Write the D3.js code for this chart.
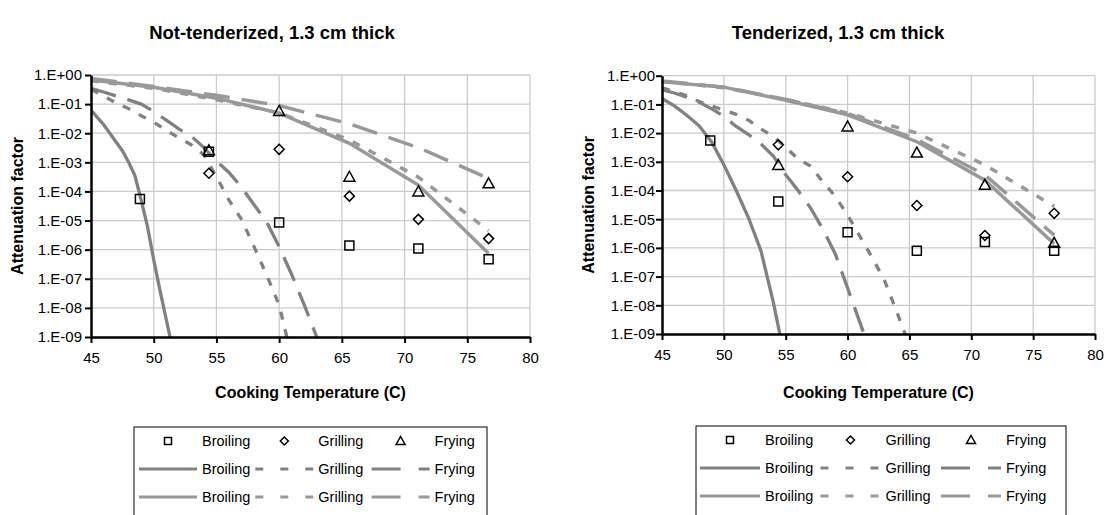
<!DOCTYPE html>
<html>
<head>
<meta charset="utf-8">
<script src="https://cdn.jsdelivr.net/npm/d3@7"></script>
<style>
  body { margin: 0; background: #fff; }
  svg { display: block; font-family: "Liberation Sans", Arial, sans-serif; }
</style>
</head>
<body>
<div id="chart"></div>
<script>
// axes
const xTicks = [45, 50, 55, 60, 65, 70, 75, 80];
const yTicks = [1e0, 1e-1, 1e-2, 1e-3, 1e-4, 1e-5, 1e-6, 1e-7, 1e-8, 1e-9];
const yTickLabels = ["1.E+00", "1.E-01", "1.E-02", "1.E-03", "1.E-04", "1.E-05", "1.E-06", "1.E-07", "1.E-08", "1.E-09"];
const methods = ["Broiling", "Grilling", "Frying"];

// observed points (cooking temperature, C)
const obsTemps = [48.9, 54.4, 60, 65.6, 71.1, 76.7];
const obsTempsNoBroil = [54.4, 60, 65.6, 71.1, 76.7];

const ntBroilObs = [5.5e-5, 2.3e-3, 8.5e-6, 1.4e-6, 1.1e-6, 4.7e-7];
const ntGrillObs = [4.2e-4, 2.8e-3, 6.9e-5, 1.1e-5, 2.4e-6];
const ntFryObs = [2.6e-3, 5.8e-2, 3.2e-4, 1.0e-4, 1.9e-4];

const tBroilObs = [5.5e-3, 4.1e-5, 3.5e-6, 8.0e-7, 1.6e-6, 8.0e-7];
const tGrillObs = [3.9e-3, 3.0e-4, 3.0e-5, 2.7e-6, 1.6e-5];
const tFryObs = [7.8e-4, 1.7e-2, 2.1e-3, 1.6e-4, 1.5e-6];

// first set of curves (steep)
const steepT = [45, 46, 47, 48, 49, 50, 51, 52, 53, 54, 55, 56, 57, 58, 59, 60, 61, 62, 63, 64, 65];
const ntBroilSteepT = [45, 45.5, 46, 46.5, 47, 47.5, 48, 48.5, 49, 49.5, 50, 50.5, 51, 51.5];
const ntBroilSteep = [6.3e-2, 3.5e-2, 2.0e-2, 1.0e-2, 5.0e-3, 2.5e-3, 1.0e-3, 3.5e-4, 5.0e-5, 6.3e-6, 4.5e-7, 4.0e-8, 4.0e-9, 4.0e-10];
const ntGrillSteep = [0.32, 0.19, 0.11, 7.0e-2, 4.0e-2, 2.4e-2, 1.26e-2, 7.0e-3, 4.0e-3, 1.8e-3, 3.2e-4, 5.0e-5, 1.1e-5, 1.26e-6, 1.35e-7, 1.26e-8, 2.0e-10];
const ntFrySteep = [0.35, 0.26, 0.19, 0.14, 0.10, 5.6e-2, 2.8e-2, 1.4e-2, 7.9e-3, 3.2e-3, 1.1e-3, 4.5e-4, 1.4e-4, 3.5e-5, 8.9e-6, 1.26e-6, 1.4e-7, 1.26e-8, 1.0e-9, 6.3e-11];

const tBroilSteep = [0.16, 8.9e-2, 4.2e-2, 1.8e-2, 5.0e-3, 7.9e-4, 1.0e-4, 1.1e-5, 7.9e-7, 1.26e-8, 1.0e-10];
const tGrillSteep = [0.38, 0.28, 0.20, 0.126, 8.9e-2, 6.3e-2, 4.5e-2, 2.8e-2, 1.4e-2, 7.6e-3, 3.2e-3, 1.26e-3, 7.1e-4, 2.0e-4, 6.3e-5, 1.4e-5, 2.5e-6, 4.5e-7, 7.1e-8, 5.6e-9, 4.0e-10];
const tFrySteep = [0.32, 0.25, 0.18, 0.12, 7.1e-2, 3.8e-2, 1.7e-2, 8.9e-3, 4.2e-3, 1.6e-3, 3.5e-4, 1.0e-4, 2.5e-5, 4.5e-6, 6.3e-7, 4.0e-8, 2.5e-9, 1.6e-10];

// second set of curves (gentle)
const fitT = [45, 50, 55, 60, 65.6, 71.1, 76.7];
const ntBroilFit = [0.68, 0.38, 0.16, 4.9e-2, 4.5e-3, 1.66e-4, 7.4e-7];
const ntGrillFit = [0.63, 0.35, 0.14, 5.0e-2, 5.9e-3, 3.1e-4, 4.5e-6];
const ntFryFit = [0.76, 0.40, 0.20, 8.9e-2, 2.1e-2, 3.2e-3, 2.8e-4];

const tBroilFit = [0.62, 0.40, 0.14, 4.3e-2, 5.0e-3, 2.3e-4, 1.4e-6];
const tGrillFit = [0.63, 0.38, 0.15, 5.0e-2, 1.0e-2, 7.8e-4, 2.8e-5];
const tFryFit = [0.66, 0.40, 0.15, 4.8e-2, 6.0e-3, 3.5e-4, 2.8e-6];

const steepColor = "#818181";
const fitColor = "#999999";
const plotDash = [null, "8,10", "26,12"];
const legendDash = [null, "8,17", "29,18"];

const panels = [
  {
    id: "nt", title: "Not-tenderized, 1.3 cm thick", titleX: 272,
    left: 91, right: 530, top: 75, bottom: 337, yPad: 3,
    legend: { x: 134, y: 427, w: 353, s0: 139, len: 58, textOff: 63, colW: 116.3 },
    obs: [[obsTemps, ntBroilObs], [obsTempsNoBroil, ntGrillObs], [obsTempsNoBroil, ntFryObs]],
    steep: [[ntBroilSteepT, ntBroilSteep], [steepT, ntGrillSteep], [steepT, ntFrySteep]],
    fit: [[fitT, ntBroilFit], [fitT, ntGrillFit], [fitT, ntFryFit]]
  },
  {
    id: "t", title: "Tenderized, 1.3 cm thick", titleX: 838,
    left: 662, right: 1095, top: 75.7, bottom: 334, yPad: 1,
    legend: { x: 696, y: 426, w: 370, s0: 700, len: 60, textOff: 65, colW: 120.5 },
    obs: [[obsTemps, tBroilObs], [obsTempsNoBroil, tGrillObs], [obsTempsNoBroil, tFryObs]],
    steep: [[steepT.slice(0, tBroilSteep.length), tBroilSteep], [steepT, tGrillSteep], [steepT.slice(0, tFrySteep.length), tFrySteep]],
    fit: [[fitT, tBroilFit], [fitT, tGrillFit], [fitT, tFryFit]]
  }
];

const svg = d3.select("#chart")
  .append("svg")
  .attr("width", 1107)
  .attr("height", 515);

// marker shapes, centred on 0,0
function markerPath(i, s) {
  const h = s / 2;
  if (i === 0) return `M${-h},${-h}H${h}V${h}H${-h}Z`;
  if (i === 1) return `M0,${-h - 0.5}L${h + 0.5},0L0,${h + 0.5}L${-h - 0.5},0Z`;
  return `M0,${-h - 1}L${h + 1},${h}L${-h - 1},${h}Z`;
}

function drawPanel(p) {
  const g = svg.append("g");
  const x = d3.scaleLinear().domain([45, 80]).range([p.left, p.right]);
  const y = d3.scaleLog().domain([1e-9, 1]).range([p.bottom, p.top]);

  // gridlines
  g.append("g").selectAll("line")
    .data(yTicks.slice(0, -1))
    .join("line")
    .attr("x1", p.left).attr("x2", p.right)
    .attr("y1", d => y(d)).attr("y2", d => y(d))
    .attr("stroke", "#cbcbcb").attr("stroke-width", 1.3);
  g.append("g").selectAll("line")
    .data(xTicks.slice(1))
    .join("line")
    .attr("x1", d => x(d)).attr("x2", d => x(d))
    .attr("y1", p.top).attr("y2", p.bottom)
    .attr("stroke", "#cbcbcb").attr("stroke-width", 1.3);

  // clip to the plot area
  const clipId = `clip-${p.id}`;
  svg.append("defs").append("clipPath").attr("id", clipId)
    .append("rect")
    .attr("x", p.left).attr("y", p.top - 10)
    .attr("width", p.right - p.left).attr("height", p.bottom - p.top + 10);

  const line = d3.line().x(d => x(d[0])).y(d => y(d[1]));
  const plot = g.append("g").attr("clip-path", `url(#${clipId})`);

  p.fit.forEach(([ts, vs], i) => {
    plot.append("path")
      .datum(ts.map((t, k) => [t, vs[k]]))
      .attr("d", line)
      .attr("fill", "none")
      .attr("stroke", fitColor)
      .attr("stroke-width", 3.5)
      .attr("stroke-dasharray", plotDash[i]);
  });
  p.steep.forEach(([ts, vs], i) => {
    plot.append("path")
      .datum(vs.map((v, k) => [ts[k], v]))
      .attr("d", line)
      .attr("fill", "none")
      .attr("stroke", steepColor)
      .attr("stroke-width", 3.3)
      .attr("stroke-dasharray", plotDash[i]);
  });

  // observed markers
  p.obs.forEach(([ts, vs], i) => {
    plot.append("g").selectAll("path")
      .data(vs.map((v, k) => [ts[k], v]))
      .join("path")
      .attr("transform", d => `translate(${x(d[0])},${y(d[1])})`)
      .attr("d", markerPath(i, 9))
      .attr("fill", "none")
      .attr("stroke", "#000")
      .attr("stroke-width", 1.5);
  });

  // axes
  const yAxis = g.append("g")
    .attr("transform", `translate(${p.left},0)`)
    .call(d3.axisLeft(y).tickValues(yTicks).tickFormat((d, i) => yTickLabels[i])
      .tickSize(6).tickSizeOuter(0).tickPadding(p.yPad));
  const xAxis = g.append("g")
    .attr("transform", `translate(0,${p.bottom})`)
    .call(d3.axisBottom(x).tickValues(xTicks).tickSize(6).tickSizeOuter(0).tickPadding(9));
  [yAxis, xAxis].forEach(a => {
    a.select(".domain").attr("stroke", "#000").attr("stroke-width", 2.5);
    a.selectAll(".tick line").attr("stroke", "#000").attr("stroke-width", 2);
    a.selectAll(".tick text")
      .attr("fill", "#000")
      .style("font-size", "15px")
      .style("font-family", "Liberation Sans, Arial, sans-serif");
  });

  // titles
  g.append("text")
    .attr("x", p.titleX).attr("y", 39)
    .attr("text-anchor", "middle")
    .style("font-size", "18.5px").style("font-weight", "bold")
    .text(p.title);
  g.append("text")
    .attr("x", (p.left + p.right) / 2).attr("y", 398)
    .attr("text-anchor", "middle")
    .style("font-size", "16px").style("font-weight", "bold")
    .text("Cooking Temperature (C)");
  g.append("text")
    .attr("transform", `translate(${p.left - 68},${(p.top + p.bottom) / 2}) rotate(-90)`)
    .attr("text-anchor", "middle")
    .style("font-size", "16px").style("font-weight", "bold")
    .text("Attenuation factor");

  // legend
  const L = p.legend;
  const lg = g.append("g");
  lg.append("rect")
    .attr("x", L.x).attr("y", L.y)
    .attr("width", L.w).attr("height", 120)
    .attr("fill", "#fff").attr("stroke", "#000").attr("stroke-width", 1);

  const rows = [L.y + 14, L.y + 42, L.y + 70];
  methods.forEach((name, i) => {
    const sx = L.s0 + i * L.colW;
    lg.append("path")
      .attr("transform", `translate(${sx + L.len / 2},${rows[0]})`)
      .attr("d", markerPath(i, 7))
      .attr("fill", "none").attr("stroke", "#000").attr("stroke-width", 1.5);
    [steepColor, fitColor].forEach((c, r) => {
      lg.append("line")
        .attr("x1", sx).attr("x2", sx + L.len)
        .attr("y1", rows[r + 1]).attr("y2", rows[r + 1])
        .attr("stroke", c).attr("stroke-width", 3.2)
        .attr("stroke-dasharray", legendDash[i]);
    });
    rows.forEach(ry => {
      lg.append("text")
        .attr("x", sx + L.textOff).attr("y", ry + 5)
        .style("font-size", "14.5px")
        .text(name);
    });
  });
}

panels.forEach(drawPanel);
</script>
</body>
</html>
